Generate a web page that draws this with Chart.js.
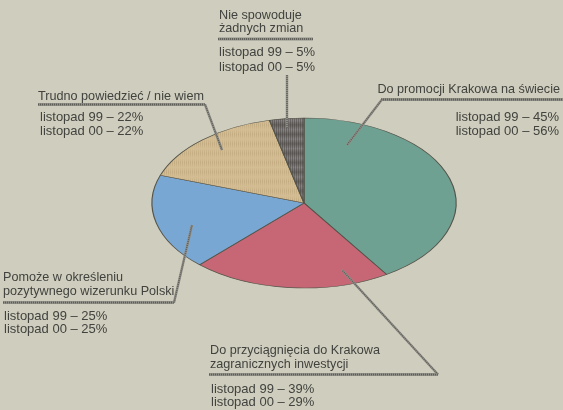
<!DOCTYPE html>
<html>
<head>
<meta charset="utf-8">
<script src="https://cdn.jsdelivr.net/npm/chart.js@4"></script>
<style>
html,body{margin:0;padding:0;background:#cfcebe;}
#wrap{width:563px;height:410px;position:relative;}
</style>
</head>
<body>
<div id="wrap"><canvas id="c" width="563" height="410"></canvas></div>
<script>
// ---- data ----
const categories = [
  ['Do promocji Krakowa na świecie'],
  ['Do przyciągnięcia do Krakowa', 'zagranicznych inwestycji'],
  ['Pomoże w określeniu', 'pozytywnego wizerunku Polski'],
  ['Trudno powiedzieć / nie wiem'],
  ['Nie spowoduje', 'żadnych zmian']
];
const seriesNames = ['listopad 99', 'listopad 00'];
const nov99 = [45, 39, 25, 22, 5];
const nov00 = [56, 29, 25, 22, 5];

// ---- styles / layout ----
function makePattern(size, base, dots) {
  const c = document.createElement('canvas');
  c.width = size; c.height = size;
  const g = c.getContext('2d');
  g.fillStyle = base; g.fillRect(0, 0, size, size);
  dots.forEach(d => { g.fillStyle = d[2]; g.fillRect(d[0], d[1], 1, 1); });
  return g.createPattern(c, 'repeat');
}
const ctx0 = document.getElementById('c').getContext('2d');
const tanPattern = makePattern(2, '#d3bd93', [[0, 0, '#c4ac82']]);
const darkPattern = makePattern(2, '#6a6766', [[0, 0, '#55524f'], [1, 1, '#8a8684']]);
const sliceColors = ['#6fa193', '#c76775', '#79a7d3', tanPattern, darkPattern];

const ellipseRatio = 85 / 152;
const titleScaleX = 0.972;
const layout = [
  { x: 560, align: 'right', titleY: [89], ul: [381, 563, 99.5], leader: [[382, 99.5], [347, 145]], vx: 559, vAlign: 'right', vY: [117, 131] },
  { x: 210, align: 'left', titleY: [350, 364], ul: [209, 438, 374.5], leader: [[438, 374.5], [342, 270]], vx: 211, vAlign: 'left', vY: [389, 402.5] },
  { x: 3, align: 'left', titleY: [277, 291], ul: [3, 174, 302.5], leader: [[174, 302.5], [192, 225]], vx: 4, vAlign: 'left', vY: [316, 329.5] },
  { x: 38, align: 'left', titleY: [96], ul: [38, 205, 104.5], leader: [[205, 104.5], [222, 150]], vx: 40, vAlign: 'left', vY: [117.5, 131.5] },
  { x: 219, align: 'left', titleY: [15, 28.5], ul: [218, 313, 39], leader: [[287, 75], [287, 128]], vx: 219, vAlign: 'left', vY: [52.5, 67.5] }
];

function hatchLine(ctx, pts, w) {
  ctx.save();
  ctx.lineCap = 'butt';
  ctx.beginPath();
  ctx.moveTo(pts[0][0], pts[0][1]);
  for (let i = 1; i < pts.length; i++) ctx.lineTo(pts[i][0], pts[i][1]);
  ctx.strokeStyle = '#908f88'; ctx.lineWidth = w; ctx.stroke();
  ctx.setLineDash([1, 1]);
  ctx.strokeStyle = '#5e5d58'; ctx.lineWidth = w * 0.6; ctx.stroke();
  ctx.restore();
}

const ellipsePlugin = {
  id: 'ellipse',
  beforeDatasetsDraw(chart) {
    const ctx = chart.ctx;
    const arc = chart.getDatasetMeta(0).data[0];
    ctx.save();
    ctx.translate(arc.x, arc.y);
    ctx.scale(1, ellipseRatio);
    ctx.translate(-arc.x, -arc.y);
  },
  afterDatasetsDraw(chart) {
    chart.ctx.restore();
  }
};

function scaledText(ctx, t, x, y, sx) {
  ctx.save();
  ctx.translate(x, y);
  ctx.scale(sx, 1);
  ctx.fillText(t, 0, 0);
  ctx.restore();
}

const labelPlugin = {
  id: 'labels',
  afterDraw(chart) {
    const ctx = chart.ctx;
    ctx.save();
    ctx.font = '13px "Liberation Sans", Arial, sans-serif';
    ctx.fillStyle = '#42423f';
    ctx.textBaseline = 'middle';
    categories.forEach((lines, i) => {
      const L = layout[i];
      ctx.textAlign = L.align;
      lines.forEach((t, j) => scaledText(ctx, t, L.x, L.titleY[j], titleScaleX));
      ctx.textAlign = L.vAlign;
      ctx.fillText(seriesNames[0] + ' – ' + nov99[i] + '%', L.vx, L.vY[0]);
      ctx.fillText(seriesNames[1] + ' – ' + nov00[i] + '%', L.vx, L.vY[1]);
      hatchLine(ctx, [[L.ul[0], L.ul[2]], [L.ul[1], L.ul[2]]], 3);
      hatchLine(ctx, L.leader, 2.5);
    });
    ctx.restore();
  }
};

new Chart(document.getElementById('c'), {
  type: 'pie',
  data: {
    labels: categories.map(c => c.join(' ')),
    datasets: [{
      data: nov00,
      backgroundColor: sliceColors,
      borderColor: '#55544a',
      borderWidth: 1.2,
      radius: 152
    }]
  },
  options: {
    responsive: false,
    animation: false,
    events: [],
    layout: { padding: { left: 152, right: 107, top: 51, bottom: 55 } },
    plugins: { legend: { display: false }, tooltip: { enabled: false } }
  },
  plugins: [ellipsePlugin, labelPlugin]
});
</script>
</body>
</html>
